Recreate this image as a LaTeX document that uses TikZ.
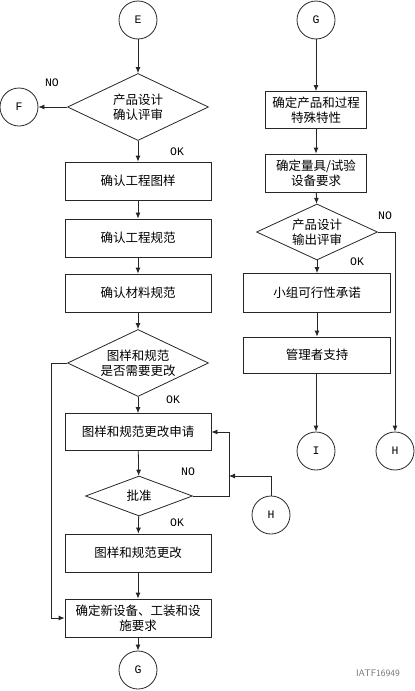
\documentclass[tikz,border=0pt]{standalone}
\usepackage{fontspec}
\setmainfont{Liberation Mono}
\newfontfamily\cjk{Noto Sans CJK SC}
\usetikzlibrary{shapes.geometric,arrows.meta}

\tikzset{
  line/.style={draw=black!85,line width=0.8pt},
  stepbox/.style={line,rectangle,minimum width=146pt,minimum height=38pt,inner sep=0pt,align=center,font=\cjk\fontsize{12.5}{15}\selectfont},
  smallbox/.style={stepbox,minimum width=101pt},
  decision/.style={line,diamond,shape aspect=2.1,inner sep=0pt,align=center,font=\cjk\fontsize{12.5}{15}\selectfont},
  connector/.style={line,circle,minimum size=38pt,inner sep=0pt,font=\fontsize{11.5}{13}\selectfont},
  answer/.style={font=\fontsize{11.5}{13}\selectfont},
}

\begin{document}
\begin{tikzpicture}[x=1pt,y=-1pt,>={Latex[length=6pt,width=5pt]}]
    % page size
      \useasboundingbox (0,0) rectangle (415,691);

    % x of the columns
      \def\xleft{138}
      \def\xright{316}

    % Draw the left column
      \node[connector] (E) at (\xleft,20) {E};
      \node[decision,minimum width=141pt,minimum height=67pt] (review) at (\xleft,107) {产品设计\\确认评审};
      \node[connector] (F) at (19,107) {F};
      \node[stepbox] (drawing) at (\xleft,181) {确认工程图样};
      \node[stepbox] (spec) at (\xleft,238) {确认工程规范};
      \node[stepbox] (material) at (\xleft,293) {确认材料规范};
      \node[decision,minimum width=141pt,minimum height=67pt] (change) at (\xleft,363) {图样和规范\\是否需要更改};
      \node[stepbox,minimum height=37pt] (request) at (\xleft,432) {图样和规范更改申请};
      \node[decision,minimum width=107pt,minimum height=40pt] (approve) at (139,496) {批准};
      \node[stepbox] (modify) at (\xleft,553) {图样和规范更改};
      \node[stepbox] (equip) at (\xleft,618) {确定新设备、工装和设\\施要求};
      \node[connector] (Gout) at (\xleft,670) {G};
      \node[connector] (Hin) at (271,515) {H};

    % Draw the right column
      \node[connector] (Gin) at (\xright,20) {G};
      \node[smallbox,minimum height=37pt] (special) at (\xright,110) {确定产品和过程\\特殊特性};
      \node[smallbox] (gauge) at (\xright,173) {确定量具/试验\\设备要求};
      \node[decision,minimum width=121pt,minimum height=56pt] (output) at (317,232) {产品设计\\输出评审};
      \node[stepbox,minimum width=147pt,minimum height=39pt] (team) at (317,293) {小组可行性承诺};
      \node[stepbox,minimum width=147pt,minimum height=36pt] (manage) at (317,355) {管理者支持};
      \node[connector] (I) at (\xright,451) {I};
      \node[connector] (Hout) at (395,451) {H};

    % corners of the side lines
      \coordinate (bypass) at (51,363);
      \coordinate (loop) at (229,496);
      \coordinate (join) at (229,476);

    % Draw the connectors of the left column
      \draw[line,->] (E) -- (review);
      \draw[line,->] (review.west) -- (F);
      \draw[line,->] (review) -- (drawing);
      \draw[line,->] (drawing) -- (spec);
      \draw[line,->] (spec) -- (material);
      \draw[line,->] (material) -- (change);
      \draw[line,->] (change) -- (request);
      \draw[line,->] (request) -- (approve);
      \draw[line,->] (approve) -- (modify);
      \draw[line,->] (modify) -- (equip);
      \draw[line,->] (equip) -- (Gout);
      \draw[line,->] (change.west) -- (bypass) |- (equip.west);
      \draw[line,->] (approve.east) -- (loop) |- (request.east);
      \draw[line,->] (Hin.north) |- (join);

    % Draw the connectors of the right column
      \draw[line,->] (Gin) -- (special);
      \draw[line,->] (special) -- (gauge);
      \draw[line,->] (gauge) -- (output);
      \draw[line,->] (output) -- (team);
      \draw[line,->] (team) -- (manage);
      \draw[line,->] (manage.south -| I) -- (I);
      \draw[line,->] (output.east) -| (Hout.north);

    % Draw the answer labels
      \node[answer] (no1) at (52,83) {NO};
      \node[answer] (ok1) at (177,152) {OK};
      \node[answer] (ok2) at (173,400) {OK};
      \node[answer] (no2) at (188,472) {NO};
      \node[answer] (ok3) at (177,523) {OK};
      \node[answer] (no3) at (385,216) {NO};
      \node[answer] (ok4) at (357,262) {OK};

    % watermark
      \node[font=\sffamily\fontsize{9.5}{11}\selectfont,text=black!55] (mark) at (378,673) {IATF16949};
    \end{tikzpicture}
\end{document}
